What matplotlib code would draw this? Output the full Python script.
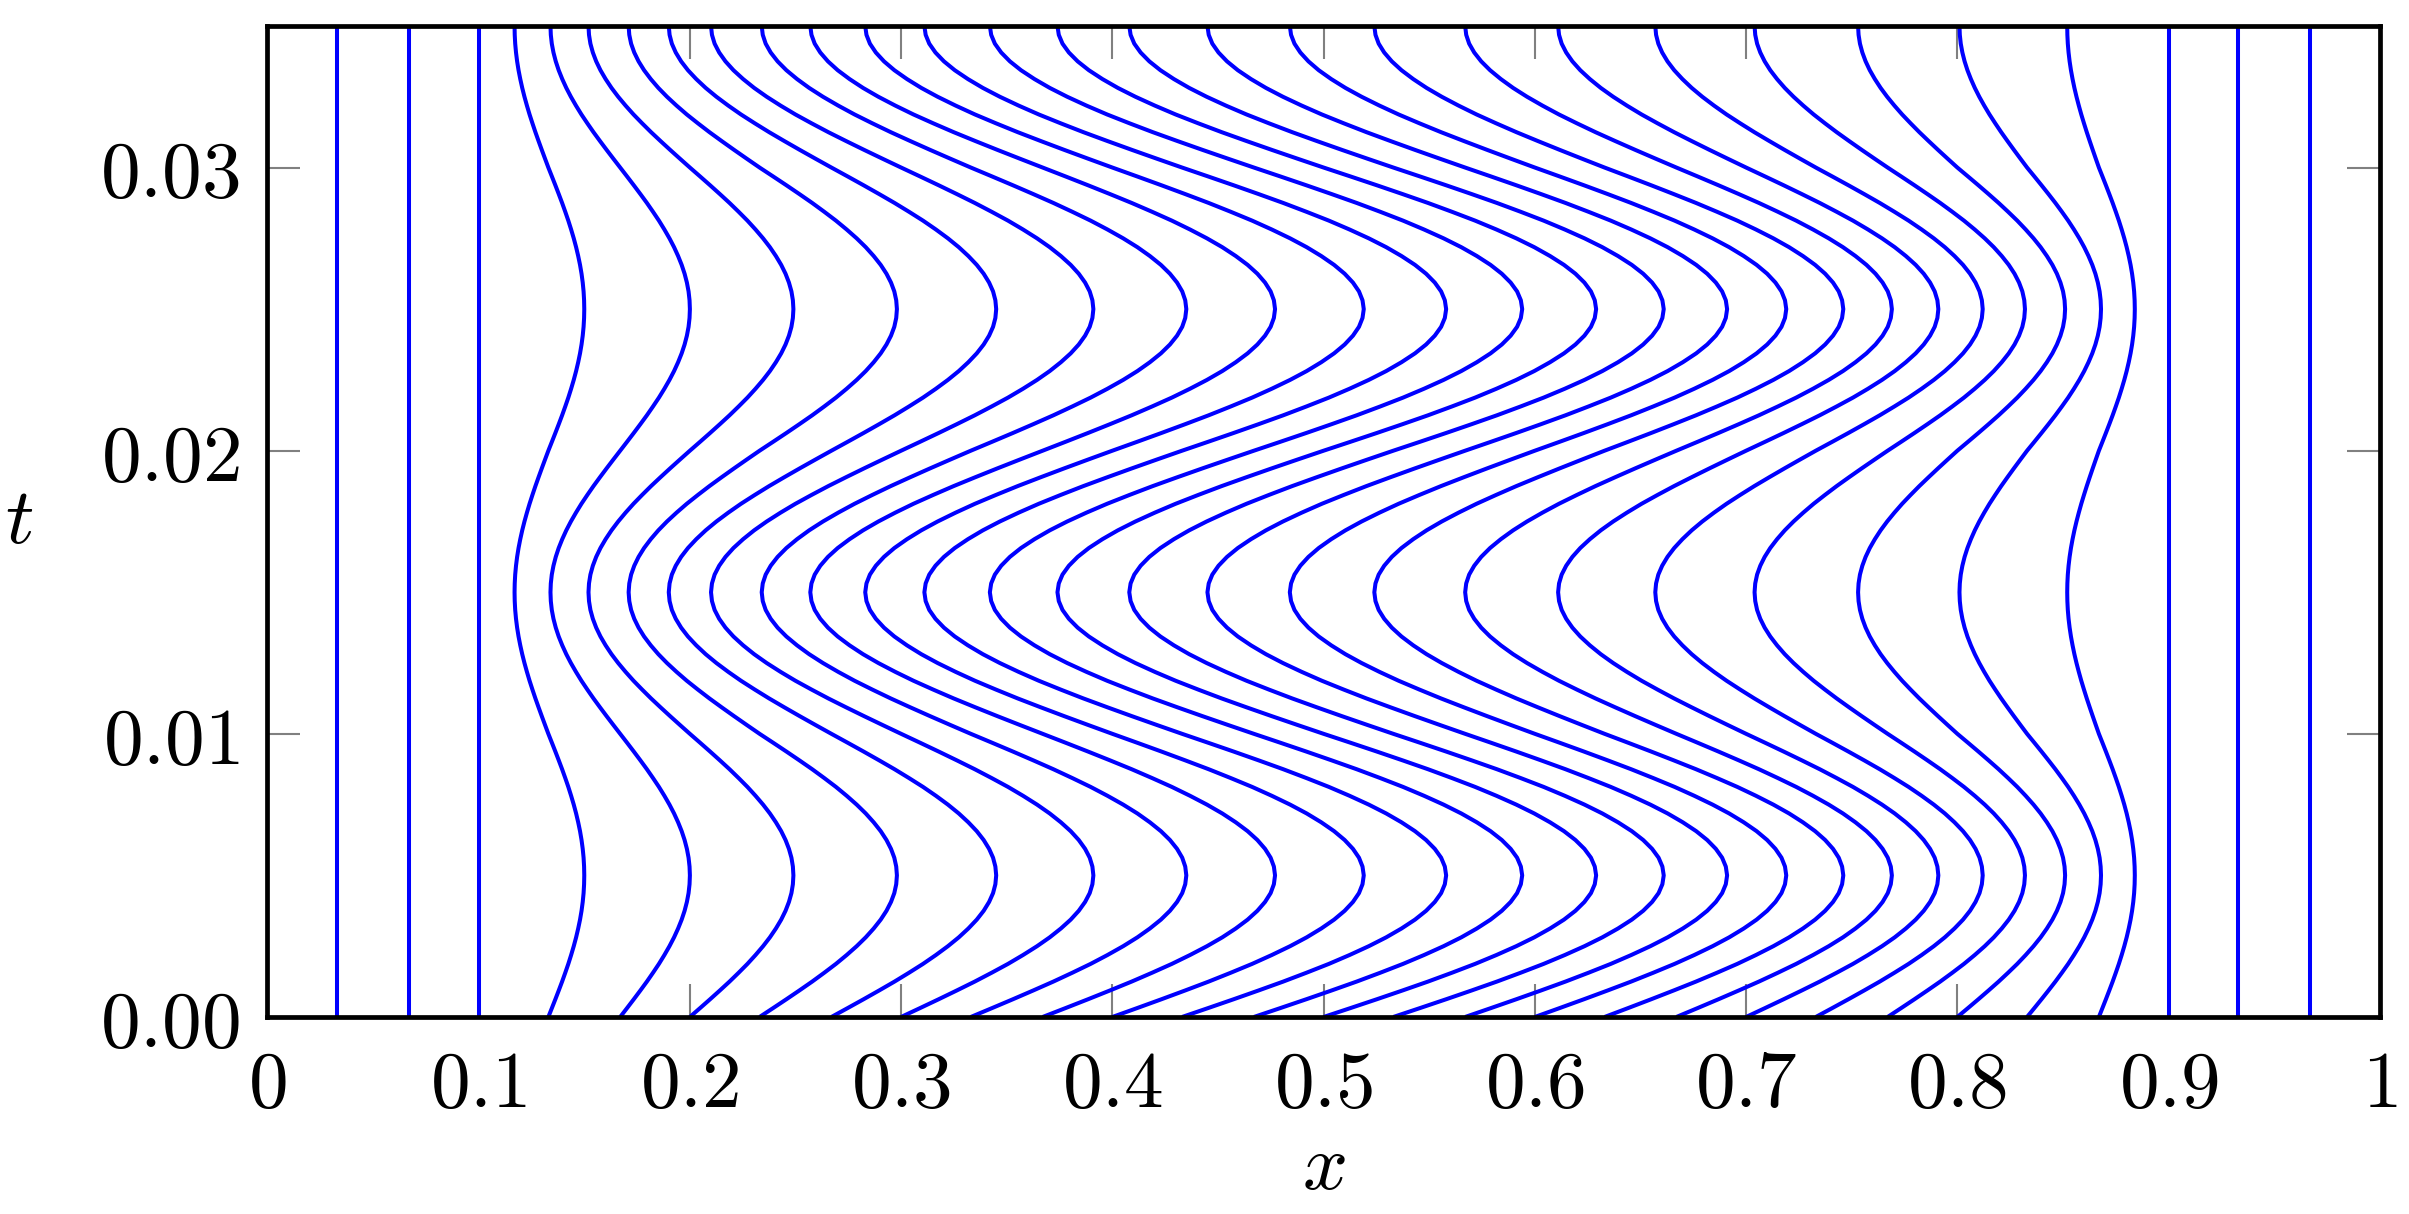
import numpy as np
import matplotlib
matplotlib.use("Agg")
import matplotlib.pyplot as plt

plt.rcParams['mathtext.fontset'] = 'cm'
plt.rcParams['font.family'] = 'DejaVu Serif'

# where each curve starts at t = 0
x_start = [0.033, 0.067, 0.100, 0.133, 0.167, 0.200, 0.233, 0.267, 0.300, 0.333,
           0.367, 0.400, 0.433, 0.467, 0.500, 0.533, 0.567, 0.600, 0.633, 0.667,
           0.700, 0.733, 0.767, 0.800, 0.833, 0.867, 0.900, 0.933, 0.967]
# right-most position (t = 0.005 and 0.025)
x_right = [0.033, 0.067, 0.100, 0.150, 0.200, 0.249, 0.298, 0.345, 0.391, 0.435,
           0.477, 0.519, 0.558, 0.594, 0.629, 0.661, 0.691, 0.719, 0.746, 0.769,
           0.791, 0.812, 0.832, 0.851, 0.868, 0.884, 0.900, 0.933, 0.967]
# left-most position (t = 0.015 and 0.035)
x_left = [0.033, 0.067, 0.100, 0.117, 0.134, 0.152, 0.171, 0.190, 0.210, 0.234,
          0.257, 0.283, 0.311, 0.342, 0.374, 0.408, 0.445, 0.484, 0.524, 0.567,
          0.611, 0.657, 0.704, 0.753, 0.801, 0.852, 0.900, 0.933, 0.967]

# share of the swing along one quarter (0.005 in t)
quarter = [0.0, 0.098, 0.195, 0.290, 0.383, 0.471, 0.556, 0.634, 0.707,
           0.773, 0.831, 0.882, 0.924, 0.957, 0.981, 0.995, 1.0]
quarter_len = 0.005
n_quarters = 7

x_ticks = [0, 0.1, 0.2, 0.3, 0.4, 0.5, 0.6, 0.7, 0.8, 0.9, 1]
x_tick_labels = ["0", "0.1", "0.2", "0.3", "0.4", "0.5", "0.6", "0.7", "0.8", "0.9", "1"]
t_ticks = [0.0, 0.01, 0.02, 0.03]
t_tick_labels = ["0.00", "0.01", "0.02", "0.03"]

# build the swing profile over the time range from the quarter
q = np.array(quarter)
pieces = []
for i in range(n_quarters):
    part = q if i % 2 == 0 else q[::-1]
    sign = 1 if (i // 2) % 2 == 0 else -1
    if i > 0:
        part = part[1:]
    pieces.append(sign * part)
swing = np.concatenate(pieces)
t = np.linspace(0, n_quarters * quarter_len, len(swing))

fig = plt.figure(figsize=(24.09, 12.14), dpi=100)
ax = fig.add_axes([0.111, 0.1623, 0.8769, 0.8163])

for x0, xr, xl in zip(x_start, x_right, x_left):
    x = np.where(swing >= 0, x0 + swing * (xr - x0), x0 + swing * (x0 - xl))
    ax.plot(x, t, color='#0000ff', lw=2.9, solid_capstyle='butt')

ax.set_xlim(0, 1)
ax.set_ylim(0, 0.035)
ax.set_xticks(x_ticks)
ax.set_xticklabels(["$" + s + "$" for s in x_tick_labels])
ax.set_yticks(t_ticks)
ax.set_yticklabels(["$" + s + "$" for s in t_tick_labels])
ax.tick_params(direction='in', length=24, width=1.5, color='#808080',
               top=True, right=True, labelsize=57)
ax.tick_params(axis='x', pad=22)
ax.tick_params(axis='y', pad=20)
for sp in ax.spines.values():
    sp.set_linewidth(3.4)
    sp.set_zorder(3)

ax.set_xlabel("$x$", fontsize=57, labelpad=4)
ax.set_ylabel("$t$", fontsize=57, rotation=0, labelpad=58, va='center')

fig.savefig("out.png", dpi=100)
